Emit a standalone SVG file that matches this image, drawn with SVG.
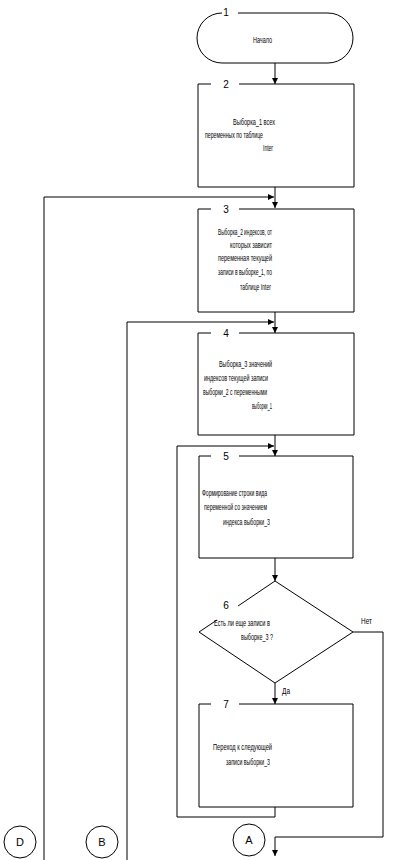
<svg xmlns="http://www.w3.org/2000/svg" width="406" height="860" viewBox="0 0 406 860">
<defs>
<marker id="ah" viewBox="0 0 10 10" refX="10" refY="5" markerWidth="6" markerHeight="6" orient="auto" markerUnits="userSpaceOnUse">
<path d="M0,0 L10,5 L0,10 z" fill="#000"/>
</marker>
<style>
.s{fill:none;stroke:#000;stroke-width:1}
.t{font-family:"Liberation Sans",Arial,sans-serif;font-size:8.5px;fill:#000}
.n{font-family:"Liberation Sans",Arial,sans-serif;font-size:10px;fill:#000;text-anchor:middle}
.c{font-family:"Liberation Sans",Arial,sans-serif;font-size:11px;fill:#000;text-anchor:middle}
</style>
</defs>
<rect width="406" height="860" fill="#fff"/>
<g id="connectors" class="s">
<path d="M275,63 V84" marker-end="url(#ah)"/>
<path d="M275,187 V208" marker-end="url(#ah)"/>
<path d="M44,860 V197 H274" marker-end="url(#ah)"/>
<path d="M275,312 V333" marker-end="url(#ah)"/>
<path d="M127,860 V322 H274" marker-end="url(#ah)"/>
<path d="M275,435 V456" marker-end="url(#ah)"/>
<path d="M275,807 V817 H177 V446 H274" marker-end="url(#ah)"/>
<path d="M275,558 V581" marker-end="url(#ah)"/>
<path d="M275,683 V704" marker-end="url(#ah)"/>
<path d="M353,632 H383 V837 H275 V856" marker-end="url(#ah)"/>
</g>
<g id="n1">
<path class="s" d="M238,13 H328 A25,25 0 0 1 328,63 H222 A25,25 0 0 1 222,13"/>
<text class="n" x="226" y="16">1</text>
<text class="t" x="253" y="43" textLength="19" lengthAdjust="spacingAndGlyphs">Начало</text>
</g>
<g id="n2">
<path class="s" d="M211,84 H198 V187 H354 V84 H239"/>
<text class="n" x="226" y="88">2</text>
<text class="t" x="233" y="125" textLength="42" lengthAdjust="spacingAndGlyphs">Выборка_1 всех</text>
<text class="t" x="205" y="138" textLength="58" lengthAdjust="spacingAndGlyphs">переменных по таблице</text>
<text class="t" x="263" y="151" textLength="10" lengthAdjust="spacingAndGlyphs">Inter</text>
</g>
<g id="n3">
<path class="s" d="M211,209 H198 V312 H354 V209 H239"/>
<text class="n" x="226" y="213">3</text>
<text class="t" x="218" y="235" textLength="54" lengthAdjust="spacingAndGlyphs">Выборка_2 индексов, от</text>
<text class="t" x="230" y="248" textLength="42" lengthAdjust="spacingAndGlyphs">которых зависит</text>
<text class="t" x="218" y="261" textLength="54" lengthAdjust="spacingAndGlyphs">переменная текущей</text>
<text class="t" x="218" y="275" textLength="54" lengthAdjust="spacingAndGlyphs">записи в выборке_1, по</text>
<text class="t" x="240" y="290" textLength="31" lengthAdjust="spacingAndGlyphs">таблице Inter</text>
</g>
<g id="n4">
<path class="s" d="M211,333 H198 V435 H354 V333 H239"/>
<text class="n" x="226" y="337">4</text>
<text class="t" x="219" y="367" textLength="53" lengthAdjust="spacingAndGlyphs">Выборка_3 значений</text>
<text class="t" x="204" y="381" textLength="64" lengthAdjust="spacingAndGlyphs">индексов текущей записи</text>
<text class="t" x="203" y="395" textLength="64" lengthAdjust="spacingAndGlyphs">выборки_2 с переменными</text>
<text class="t" x="252" y="409" textLength="20" lengthAdjust="spacingAndGlyphs">выборки_1</text>
</g>
<g id="n5">
<path class="s" d="M211,456 H199 V558 H353 V456 H239"/>
<text class="n" x="226" y="460">5</text>
<text class="t" x="202" y="496" textLength="65" lengthAdjust="spacingAndGlyphs">Формирование строки вида</text>
<text class="t" x="204" y="510" textLength="63" lengthAdjust="spacingAndGlyphs">переменной со значением</text>
<text class="t" x="223" y="525" textLength="47" lengthAdjust="spacingAndGlyphs">индекса выборки_3</text>
</g>
<g id="n6">
<path class="s" d="M238,606 L275,581 L353,632 L275,683 L199,632 L217,620"/>
<text class="n" x="226" y="609">6</text>
<text class="t" x="214" y="626" textLength="56" lengthAdjust="spacingAndGlyphs">Есть ли еще записи в</text>
<text class="t" x="241" y="640" textLength="32" lengthAdjust="spacingAndGlyphs">выборке_3 ?</text>
<text class="t" x="361" y="624" textLength="11" lengthAdjust="spacingAndGlyphs">Нет</text>
<text class="t" x="282" y="694" textLength="8" lengthAdjust="spacingAndGlyphs">Да</text>
</g>
<g id="n7">
<path class="s" d="M211,704 H199 V807 H353 V704 H239"/>
<text class="n" x="226" y="708">7</text>
<text class="t" x="213" y="750" textLength="59" lengthAdjust="spacingAndGlyphs">Переход к следующей</text>
<text class="t" x="226" y="765" textLength="44" lengthAdjust="spacingAndGlyphs">записи выборки_3</text>
</g>
<g id="cA">
<circle class="s" cx="249" cy="840" r="16"/>
<text class="c" x="249" y="844">A</text>
</g>
<g id="cD">
<circle class="s" cx="20" cy="842" r="16"/>
<text class="c" x="20" y="846">D</text>
</g>
<g id="cB">
<circle class="s" cx="102" cy="842" r="16"/>
<text class="c" x="102" y="846">B</text>
</g>
</svg>
